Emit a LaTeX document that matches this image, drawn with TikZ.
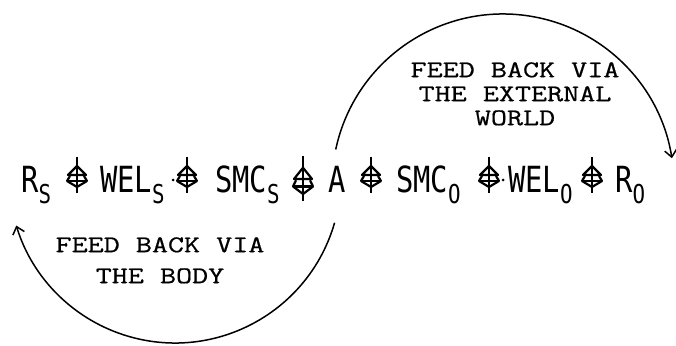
\documentclass[tikz,border=0pt]{standalone}
\usepackage{fontspec}
\newfontfamily\rowfont[FakeStretch=0.8]{DejaVu Sans Mono}
\newfontfamily\notefont[FakeStretch=1.3, FakeBold=0.6]{Latin Modern Mono}
\usetikzlibrary{arrows.meta}
\newcommand\lowsub[1]{\raisebox{-11pt}{\fontsize{26}{26}\selectfont #1}}

\begin{document}
\begin{tikzpicture}[
  x=1pt, y=1pt,
  term/.style={anchor=base west, inner sep=0pt, font=\rowfont\fontsize{36}{40}\selectfont},
  note/.style={align=center, anchor=north, inner sep=0pt, font=\notefont\fontsize{24}{24}\selectfont},
  feedback/.style={line width=1.5pt, -{Straight Barb[length=7pt, width=12pt]}},
  glyph/.style={line width=2.2pt, line join=round},
  linksym/.pic={
    \draw[glyph] (0,18) -- (0,-18);
    \draw[glyph] (0,9) -- (-9,0) -- (9,0) -- cycle;
    \draw[glyph] (-7,-1) -- (-10,-6) -- (0,-12) -- (10,-6) -- (7,-1);
    \draw[glyph] (-10,-6) -- (10,-6);
  }
]
\useasboundingbox (0,0) rectangle (676,345);

% Chain of terms
\node[term] (rs) at (21,152) {R\lowsub{S}};
\pic (l1) at (77,170) {linksym};
\node[term] (wels) at (100,152) {WEL\lowsub{S}};
\fill (173,165) circle (1.5);
\pic (l2) at (187,170) {linksym};
\node[term] (smcs) at (215,152) {SMC\lowsub{S}};
\pic[yscale=1.25] (l3) at (303,166) {linksym};
\node[term] (a) at (328,152) {A};
\pic (l4) at (371,170) {linksym};
\node[term] (smco) at (396,152) {SMC\lowsub{O}};
\fill (503,165) circle (1.5);
\pic (l5) at (489,170) {linksym};
\node[term] (welo) at (508,152) {WEL\lowsub{O}};
\pic (l6) at (592,170) {linksym};
\node[term] (ro) at (615,152) {R\lowsub{O}};

% Feedback loops
\coordinate (extc) at (503,160);
\coordinate (bodyc) at (175,168);
\draw[feedback] ([shift={(168:171)}]extc) arc[start angle=168, end angle=9, radius=171];
\draw[feedback] ([shift={(-16:166)}]bodyc) arc[start angle=-16, end angle=-163, radius=166];

% Labels
\node[note] (extnote) at (515,283) {FEED BACK VIA\\THE EXTERNAL\\WORLD};
\node[note, font=\notefont\fontsize{24}{31}\selectfont] (bodynote) at (160,108) {FEED BACK VIA\\THE BODY};

\end{tikzpicture}
\end{document}
